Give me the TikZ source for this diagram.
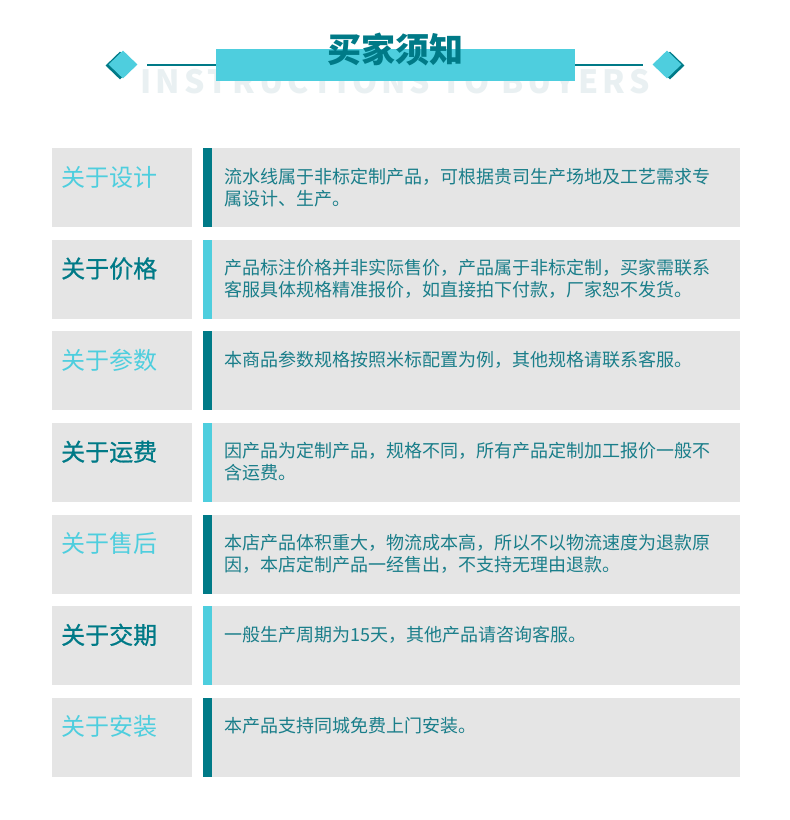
\documentclass[tikz,border=0pt]{standalone}
\usepackage{fontspec}
\usetikzlibrary{shapes.geometric}
\newfontfamily\cjk{Noto Sans CJK SC}
\newfontfamily\cjkmed[FakeBold=0.8]{Noto Sans CJK SC}
\newfontfamily\ghostfont[LetterSpace=12.5]{Noto Sans CJK SC}
\definecolor{myDark}{HTML}{007A87}
\definecolor{myLight}{HTML}{4ECEDE}
\definecolor{myGray}{HTML}{E5E5E5}
\definecolor{myGhost}{HTML}{E9F0F2}
\definecolor{myBody}{HTML}{1A7E8A}
\tikzset{
  graybox/.style={fill=myGray, inner sep=0, anchor=north west, minimum height=79},
  barbox/.style={inner sep=0, anchor=north west, minimum height=79, minimum width=9},
  labtext/.style={inner sep=0, anchor=base west, font=\fontsize{24}{28}\selectfont},
  bodytext/.style={inner sep=0, anchor=base west, text=myBody, font=\cjk\fontsize{18}{22}\selectfont},
  dia/.style={diamond, inner sep=0, minimum width=29, minimum height=28},
  hline/.style={draw=myDark, line width=1.8pt}
}
\newcommand\inforow[6]{%
  \pgfmathsetmacro\rowtop{148+91.6*#1}%
  \node[graybox, minimum width=140] (L#1) at (52,\rowtop) {};
  \node[barbox, fill=#4] (B#1) at (203,\rowtop) {};
  \node[graybox, minimum width=528] (R#1) at (212,\rowtop) {};
  \node[labtext] (T#1) at (61,\rowtop+38) {#3};
  \node[bodytext] (Da#1) at (224,\rowtop+35) {#5};
  \node[bodytext] (Db#1) at (224,\rowtop+57) {#6};
}
\begin{document}
\begin{tikzpicture}[x=1pt,y=-1pt]
\useasboundingbox (0,0) rectangle (790,820);
\fill[white] (0,0) rectangle (790,820);
% header
\node[inner sep=0, text=myGhost, font=\ghostfont\bfseries\fontsize{32}{36}\selectfont] (sub) at (395,82) {INSTRUCTIONS TO BUYERS};
\node[fill=myLight, inner sep=0, minimum width=359, minimum height=32] (band) at (395.5,65) {};
\node[inner sep=0, anchor=base, text=myDark, font=\cjk\bfseries\fontsize{34}{36}\selectfont] (title) at (395,62) {买家须知};
\coordinate (lend) at (147,65);
\coordinate (rend) at (643,65);
\draw[hline] (lend) -- (band.west);
\draw[hline] (band.east) -- (rend);
\node[dia, fill=myDark] (dl0) at (120,65.5) {};
\node[dia, fill=myLight] (dl) at (123,64.5) {};
\node[dia, fill=myDark] (dr0) at (670,65.5) {};
\node[dia, fill=myLight] (dr) at (667,64.5) {};
% rows
\inforow{0}{myLight}{\cjk\textcolor{myLight}{关于设计}}{myDark}{流水线属于非标定制产品，可根据贵司生产场地及工艺需求专}{属设计、生产。}
\inforow{1}{myDark}{\cjkmed\textcolor{myDark}{关于价格}}{myLight}{产品标注价格并非实际售价，产品属于非标定制，买家需联系}{客服具体规格精准报价，如直接拍下付款，厂家恕不发货。}
\inforow{2}{myLight}{\cjk\textcolor{myLight}{关于参数}}{myDark}{本商品参数规格按照米标配置为例，其他规格请联系客服。}{}
\inforow{3}{myDark}{\cjkmed\textcolor{myDark}{关于运费}}{myLight}{因产品为定制产品，规格不同，所有产品定制加工报价一般不}{含运费。}
\inforow{4}{myLight}{\cjk\textcolor{myLight}{关于售后}}{myDark}{本店产品体积重大，物流成本高，所以不以物流速度为退款原}{因，本店定制产品一经售出，不支持无理由退款。}
\inforow{5}{myDark}{\cjkmed\textcolor{myDark}{关于交期}}{myLight}{一般生产周期为15天，其他产品请咨询客服。}{}
\inforow{6}{myLight}{\cjk\textcolor{myLight}{关于安装}}{myDark}{本产品支持同城免费上门安装。}{}
\end{tikzpicture}
\end{document}
